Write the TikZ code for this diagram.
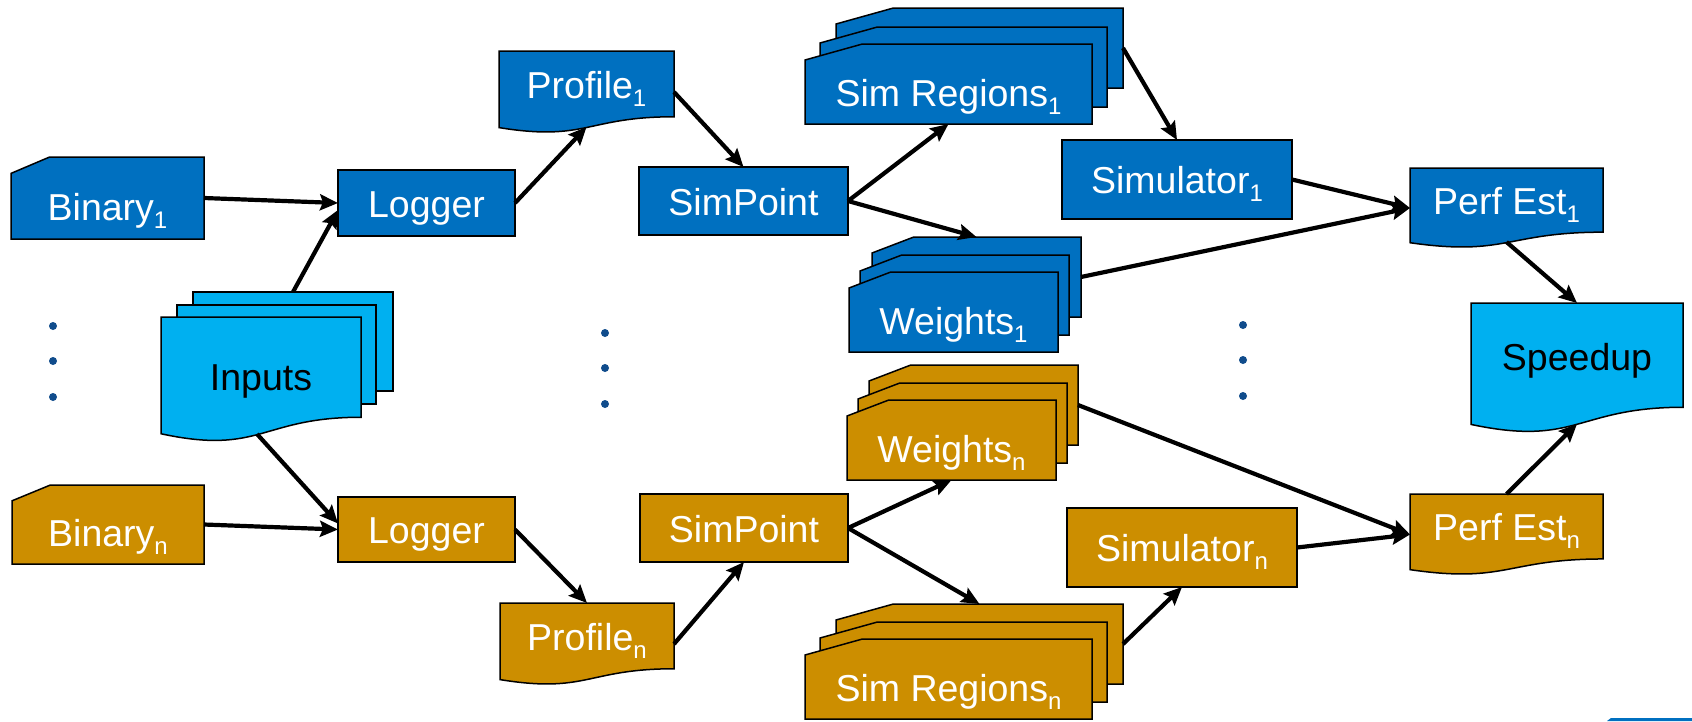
\documentclass[tikz,border=0pt]{standalone}
\usepackage{fontspec}
\setmainfont{Liberation Sans}
\usetikzlibrary{arrows.meta,calc}
\definecolor{pblue}{RGB}{0,112,192}
\definecolor{pgold}{RGB}{204,142,0}
\definecolor{plight}{RGB}{0,176,240}
\definecolor{dotblue}{RGB}{16,76,140}
\newcommand\subsc[1]{\raisebox{-8pt}{\fontsize{24}{24}\selectfont #1}}
\tikzset{
  shp/.style={draw=black, line width=1.5pt, line join=miter},
  conn/.style={line width=4.2pt, -{Stealth[length=18pt,width=16pt,inset=3pt]}},
  shpnode/.style={inner sep=0pt, outer sep=0pt, anchor=north west, draw=none},
  lbl/.style={inner sep=0pt, anchor=base, font=\fontsize{37.5}{42}\selectfont, text=white},
  dotmark/.style={circle, fill=dotblue, draw=none, inner sep=0pt, minimum size=8pt},
}
% name, x, y, w, h, fill
\newcommand\RectS[6]{%
  \node[shpnode, minimum width=#4pt, minimum height=#5pt] (#1) at (#2,#3) {};
  \path[shp, fill=#6] (#2,#3) rectangle (#2+#4,#3+#5);
}
\newcommand\CardS[6]{%
  \node[shpnode, minimum width=#4pt, minimum height=#5pt] (#1) at (#2,#3) {};
  \path[shp, fill=#6] (#2,#3+0.2*#5) -- (#2+0.2*#4,#3) -- (#2+#4,#3) -- (#2+#4,#3+#5) -- (#2,#3+#5) -- cycle;
}
\newcommand\DocS[6]{%
  \node[shpnode, minimum width=#4pt, minimum height=#5pt] (#1) at (#2,#3) {};
  \path[shp, fill=#6] (#2,#3) -- (#2+#4,#3) -- (#2+#4,#3+0.802*#5)
    .. controls (#2+0.5*#4,#3+0.802*#5) and (#2+0.5*#4,#3+1.1075*#5) .. (#2,#3+0.934*#5) -- cycle;
}
\begin{document}
\begin{tikzpicture}[x=1pt,y=-1pt]
\useasboundingbox (0,0) rectangle (1692,721);
\fill[white] (0,0) rectangle (1692,721);

% ---------- blue row ----------
\CardS{b1}{11}{157}{193}{82}{pblue}
\node[lbl] (b1t) at (107.5,220) {Binary\subsc{1}};
\RectS{l1}{338}{170}{177}{66}{pblue}
\node[lbl] (l1t) at (426.5,217) {Logger};
\DocS{p1}{499}{51}{175}{82}{pblue}
\node[lbl] (p1t) at (586.5,98) {Profile\subsc{1}};
\RectS{s1}{639}{167}{209}{68}{pblue}
\node[lbl] (s1t) at (743.5,215) {SimPoint};
\CardS{srB1}{836}{8}{287}{80}{pblue}
\CardS{srM1}{820}{27}{287}{80}{pblue}
\CardS{srF1}{805}{44}{287}{80}{pblue}
\node[lbl] (sr1t) at (948.5,106) {Sim Regions\subsc{1}};
\CardS{wB1}{872}{237}{209}{80}{pblue}
\CardS{wM1}{860}{255}{209}{80}{pblue}
\CardS{wF1}{849}{272}{209}{80}{pblue}
\node[lbl] (w1t) at (953.5,334) {Weights\subsc{1}};
\RectS{sim1}{1062}{140}{230}{79}{pblue}
\node[lbl] (sim1t) at (1177,193.5) {Simulator\subsc{1}};
\DocS{pe1}{1410}{168}{193}{80}{pblue}
\node[lbl] (pe1t) at (1506.5,214) {Perf Est\subsc{1}};

% ---------- shared ----------
\RectS{inB}{193}{292}{200}{99}{plight}
\RectS{inM}{177}{305}{199}{99}{plight}
\DocS{inF}{161}{317}{200}{125}{plight}
\node[lbl, text=black] (int) at (261,390.5) {Inputs};
\DocS{sp}{1471}{303}{212}{130}{plight}
\node[lbl, text=black] (spt) at (1577,370) {Speedup};

% ---------- gold row ----------
\CardS{bn}{12}{485}{192}{79}{pgold}
\node[lbl] (bnt) at (108,546.5) {Binary\subsc{n}};
\RectS{ln}{338}{497}{177}{65}{pgold}
\node[lbl] (lnt) at (426.5,543.5) {Logger};
\DocS{pn}{500}{603}{174}{82}{pgold}
\node[lbl] (pnt) at (587,650) {Profile\subsc{n}};
\RectS{spn}{640}{494}{208}{68}{pgold}
\node[lbl] (spnt) at (744,542) {SimPoint};
\CardS{wBn}{869}{365}{209}{80}{pgold}
\CardS{wMn}{858}{383}{209}{80}{pgold}
\CardS{wFn}{847}{400}{209}{80}{pgold}
\node[lbl] (wnt) at (951.5,462) {Weights\subsc{n}};
\CardS{srBn}{836}{604}{287}{80}{pgold}
\CardS{srMn}{820}{622}{287}{80}{pgold}
\CardS{srFn}{805}{639}{287}{80}{pgold}
\node[lbl] (srnt) at (948.5,701) {Sim Regions\subsc{n}};
\RectS{simn}{1067}{508}{230}{79}{pgold}
\node[lbl] (simnt) at (1182,561) {Simulator\subsc{n}};
\DocS{pen}{1410}{494}{193}{81}{pgold}
\node[lbl] (pent) at (1506.5,540.5) {Perf Est\subsc{n}};

% ---------- dots ----------
\foreach \yy [count=\i] in {326,361,397} {\node[dotmark] (da\i) at (53,\yy) {};}
\foreach \yy [count=\i] in {333,368,404} {\node[dotmark] (db\i) at (605,\yy) {};}
\foreach \yy [count=\i] in {325,360,396} {\node[dotmark] (dc\i) at (1243,\yy) {};}

% ---------- connectors ----------
\draw[conn] (b1.east) -- (l1.west);
\draw[conn] (inB.north) -- ($(l1.west)+(0,7)$);
\draw[conn] ($(inF.south)+(-4,-8)$) -- ($(ln.west)+(0,-6)$);
\draw[conn] (l1.east) -- ($(p1.south)+(0,-6)$);
\draw[conn] (p1.east) -- (s1.north);
\draw[conn] (s1.east) -- (srF1.south);
\draw[conn] (s1.east) -- (wB1.north);
\draw[conn] (srB1.east) -- (sim1.north);
\draw[conn] (sim1.east) -- (pe1.west);
\draw[conn] (wB1.east) -- (pe1.west);
\draw[conn] ($(pe1.south)+(0,-6)$) -- (sp.north);
\draw[conn] (pen.north) -- ($(sp.south)+(0,-9)$);
\draw[conn] (wBn.east) -- (pen.west);
\draw[conn] (simn.east) -- (pen.west);
\draw[conn] (spn.east) -- (wFn.south);
\draw[conn] (spn.east) -- (srBn.north);
\draw[conn] (srBn.east) -- (simn.south);
\draw[conn] (ln.east) -- (pn.north);
\draw[conn] (pn.east) -- (spn.south);
\draw[conn] (bn.east) -- (ln.west);

% corner fragment
\fill[pblue] (1607,721) -- (1611,718) -- (1692,718) -- (1692,721) -- cycle;
\end{tikzpicture}
\end{document}
